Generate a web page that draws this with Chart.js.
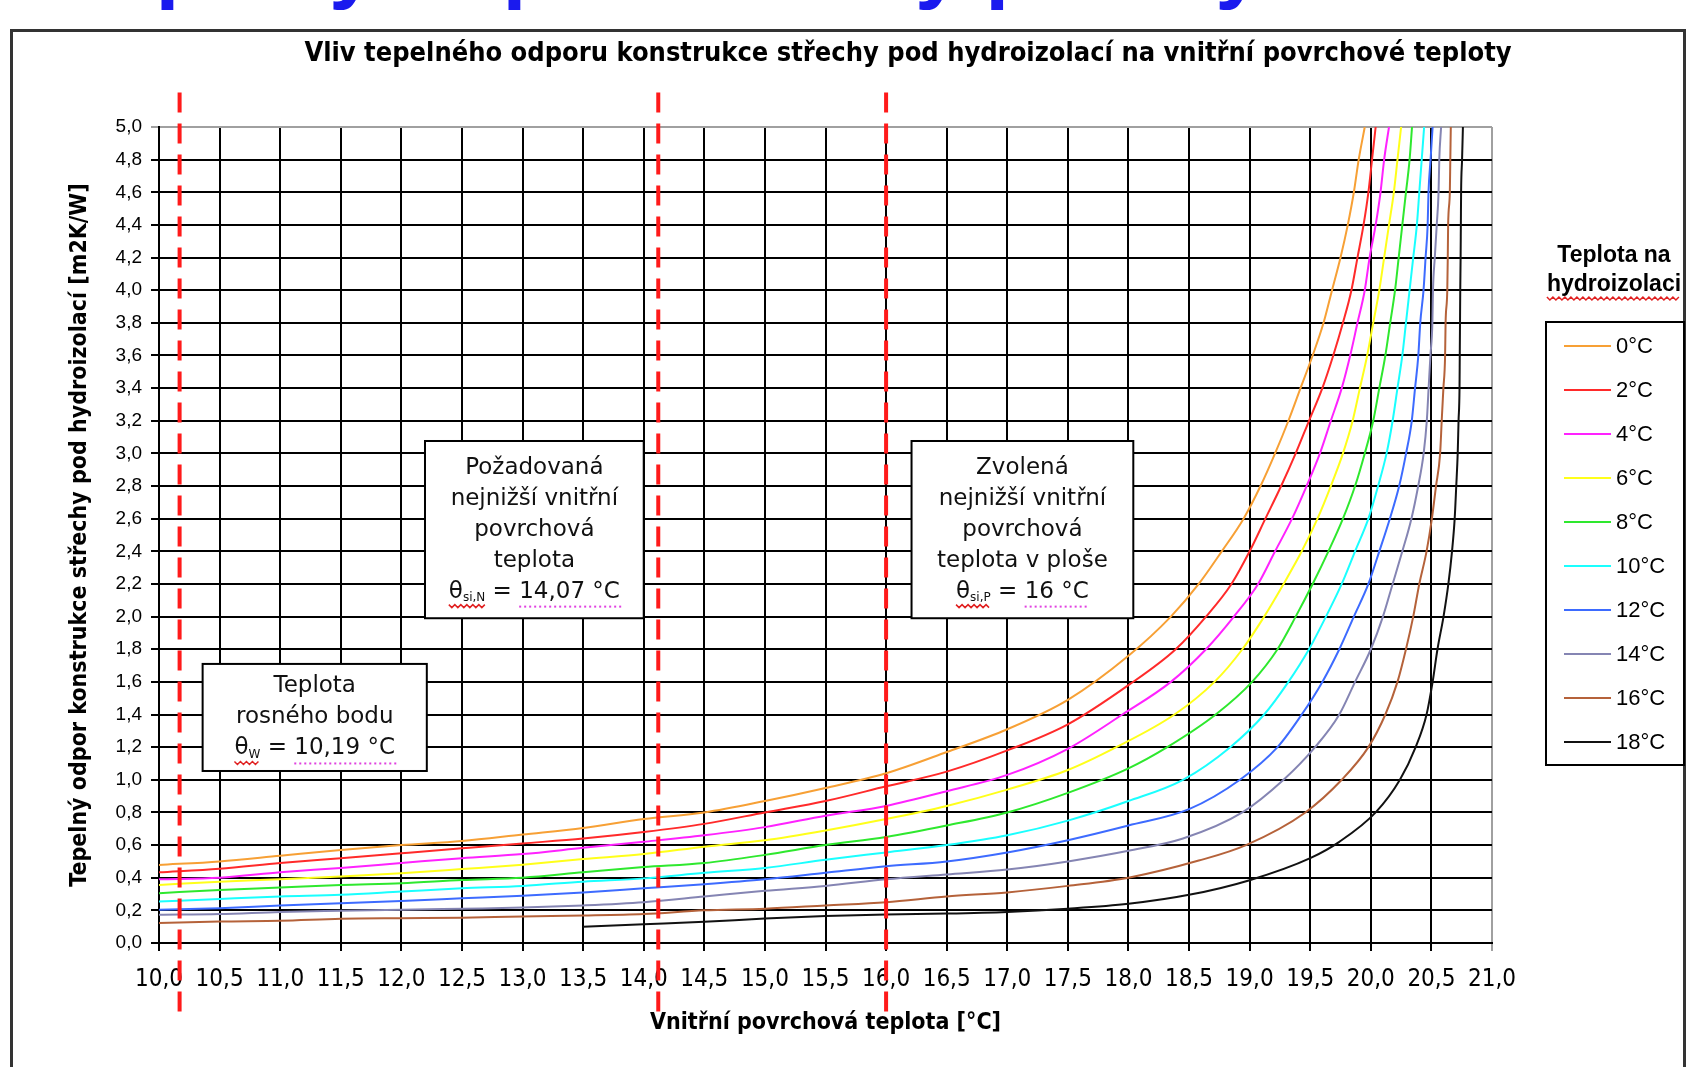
<!DOCTYPE html>
<html>
<head>
<meta charset="utf-8">
<title>Vliv tepelného odporu konstrukce střechy</title>
<script src="https://cdn.jsdelivr.net/npm/chart.js@4.4.1/dist/chart.umd.min.js"></script>
<style>
  html, body { margin: 0; padding: 0; background: #fff; overflow: hidden; }
  #wrap { position: relative; width: 1695px; height: 1067px; overflow: hidden; }
  #head { position: absolute; left: 63px; top: -81px; font: bold 86px/86px 'Liberation Sans', Arial, sans-serif;
          color: #1a1aee; white-space: nowrap; letter-spacing: -0.8px; }
  canvas { position: absolute; left: 0; top: 0; }
</style>
</head>
<body>
<div id="wrap">
  <canvas id="chart" width="1695" height="1067"></canvas>
  <div id="head">Tepelný odpor střechy pod hydroizolací</div>
</div>
<script>
// legend labels (temperature on the waterproofing layer)
const tempLabels = ['0°C', '2°C', '4°C', '6°C', '8°C', '10°C', '12°C', '14°C', '16°C', '18°C'];

// [inner surface temperature, thermal resistance]
const s0 = [[10.0,0.478],[10.5,0.50],[11.0,0.535],[11.5,0.57],[12.0,0.60],[12.5,0.625],[13.0,0.665],[13.5,0.705],[14.0,0.76],[14.5,0.80],[15.0,0.87],[15.5,0.95],[16.0,1.04],[16.5,1.17],[17.0,1.31],[17.5,1.49],[18.0,1.76],[18.35,2.0],[18.58,2.2],[18.77,2.4],[18.95,2.6],[19.09,2.8],[19.21,3.0],[19.32,3.2],[19.42,3.4],[19.52,3.6],[19.61,3.8],[19.68,4.0],[19.75,4.2],[19.81,4.4],[19.86,4.6],[19.9,4.8],[19.95,5.0]];
const s2 = [[10.0,0.433],[10.5,0.455],[11.0,0.49],[11.5,0.52],[12.0,0.55],[12.5,0.58],[13.0,0.61],[13.5,0.64],[14.0,0.68],[14.5,0.73],[15.0,0.80],[15.5,0.87],[16.0,0.96],[16.5,1.05],[17.0,1.18],[17.5,1.34],[18.0,1.58],[18.39,1.8],[18.64,2.0],[18.85,2.2],[19.0,2.4],[19.13,2.6],[19.26,2.8],[19.38,3.0],[19.49,3.2],[19.6,3.4],[19.69,3.6],[19.77,3.8],[19.84,4.0],[19.89,4.2],[19.94,4.4],[19.98,4.6],[20.01,4.8],[20.04,5.0]];
const s4 = [[10.0,0.39],[10.5,0.40],[11.0,0.433],[11.5,0.46],[12.0,0.49],[12.5,0.52],[13.0,0.545],[13.5,0.583],[14.0,0.62],[14.5,0.66],[15.0,0.71],[15.5,0.78],[16.0,0.84],[16.5,0.93],[17.0,1.03],[17.5,1.19],[17.95,1.4],[18.35,1.6],[18.64,1.8],[18.87,2.0],[19.07,2.2],[19.21,2.4],[19.35,2.6],[19.47,2.8],[19.58,3.0],[19.67,3.2],[19.76,3.4],[19.83,3.6],[19.89,3.8],[19.95,4.0],[19.99,4.2],[20.04,4.4],[20.08,4.6],[20.11,4.8],[20.15,5.0]];
const s6 = [[10.0,0.356],[10.5,0.376],[11.0,0.39],[11.5,0.407],[12.0,0.427],[12.5,0.453],[13.0,0.48],[13.5,0.514],[14.0,0.545],[14.5,0.59],[15.0,0.63],[15.5,0.69],[16.0,0.76],[16.5,0.84],[17.0,0.94],[17.5,1.06],[17.9,1.2],[18.38,1.4],[18.71,1.6],[18.94,1.8],[19.12,2.0],[19.28,2.2],[19.43,2.4],[19.56,2.6],[19.67,2.8],[19.77,3.0],[19.85,3.2],[19.91,3.4],[19.97,3.6],[20.02,3.8],[20.07,4.0],[20.11,4.2],[20.15,4.4],[20.19,4.6],[20.22,4.8],[20.25,5.0]];
const s8 = [[10.0,0.305],[10.5,0.325],[11.0,0.34],[11.5,0.356],[12.0,0.366],[12.5,0.386],[13.0,0.40],[13.5,0.433],[14.0,0.465],[14.5,0.49],[15.0,0.54],[15.5,0.60],[16.0,0.65],[16.5,0.72],[17.0,0.80],[17.5,0.92],[18.0,1.07],[18.32,1.2],[18.72,1.4],[19.02,1.6],[19.23,1.8],[19.38,2.0],[19.52,2.2],[19.65,2.4],[19.77,2.6],[19.87,2.8],[19.95,3.0],[20.02,3.2],[20.07,3.4],[20.12,3.6],[20.16,3.8],[20.2,4.0],[20.23,4.2],[20.26,4.4],[20.29,4.6],[20.32,4.8],[20.34,5.0]];
const s10 = [[10.0,0.254],[10.5,0.27],[11.0,0.285],[11.5,0.295],[12.0,0.315],[12.5,0.335],[13.0,0.35],[13.5,0.376],[14.0,0.396],[14.5,0.43],[15.0,0.46],[15.5,0.51],[16.0,0.555],[16.5,0.60],[17.0,0.66],[17.5,0.75],[18.0,0.87],[18.45,1.0],[18.84,1.2],[19.12,1.4],[19.32,1.6],[19.49,1.8],[19.63,2.0],[19.76,2.2],[19.87,2.4],[19.98,2.6],[20.06,2.8],[20.13,3.0],[20.18,3.2],[20.22,3.4],[20.26,3.6],[20.29,3.8],[20.32,4.0],[20.35,4.2],[20.38,4.4],[20.4,4.6],[20.42,4.8],[20.44,5.0]];
const s12 = [[10.0,0.203],[10.5,0.213],[11.0,0.23],[11.5,0.244],[12.0,0.258],[12.5,0.274],[13.0,0.29],[13.5,0.31],[14.0,0.335],[14.5,0.36],[15.0,0.39],[15.5,0.43],[16.0,0.47],[16.5,0.50],[17.0,0.555],[17.5,0.63],[18.0,0.72],[18.5,0.82],[18.92,1.0],[19.23,1.2],[19.43,1.4],[19.6,1.6],[19.74,1.8],[19.86,2.0],[19.98,2.2],[20.07,2.4],[20.157,2.6],[20.234,2.8],[20.291,3.0],[20.338,3.2],[20.365,3.4],[20.392,3.6],[20.408,3.8],[20.435,4.0],[20.452,4.2],[20.469,4.4],[20.476,4.6],[20.493,4.8],[20.51,5.0]];
const s14 = [[10.0,0.173],[10.5,0.177],[11.0,0.19],[11.5,0.197],[12.0,0.203],[12.5,0.21],[13.0,0.217],[13.5,0.23],[14.0,0.25],[14.5,0.285],[15.0,0.32],[15.5,0.35],[16.0,0.39],[16.5,0.42],[17.0,0.45],[17.5,0.50],[18.0,0.565],[18.45,0.64],[18.94,0.8],[19.28,1.0],[19.54,1.2],[19.74,1.4],[19.87,1.6],[20.0,1.8],[20.1,2.0],[20.18,2.2],[20.26,2.4],[20.335,2.6],[20.391,2.8],[20.436,3.0],[20.462,3.2],[20.477,3.4],[20.492,3.6],[20.508,3.8],[20.513,4.0],[20.528,4.2],[20.544,4.4],[20.559,4.6],[20.565,4.8],[20.58,5.0]];
const s16 = [[10.0,0.122],[10.5,0.132],[11.0,0.136],[11.5,0.148],[12.0,0.152],[12.5,0.155],[13.0,0.163],[13.5,0.168],[14.0,0.177],[14.5,0.20],[15.0,0.21],[15.5,0.23],[16.0,0.25],[16.5,0.285],[17.0,0.31],[17.5,0.35],[18.0,0.40],[18.58,0.505],[18.97,0.6],[19.46,0.8],[19.76,1.0],[19.98,1.2],[20.12,1.4],[20.22,1.6],[20.29,1.8],[20.35,2.0],[20.4,2.2],[20.46,2.4],[20.504,2.6],[20.538,2.8],[20.572,3.0],[20.585,3.2],[20.599,3.4],[20.613,3.6],[20.617,3.8],[20.631,4.0],[20.635,4.2],[20.638,4.4],[20.652,4.6],[20.656,4.8],[20.66,5.0]];
const s18 = [[13.5,0.10],[14.0,0.115],[14.5,0.13],[15.0,0.15],[15.5,0.165],[16.0,0.175],[16.5,0.18],[17.0,0.19],[17.5,0.21],[18.0,0.24],[18.5,0.295],[19.0,0.385],[19.5,0.52],[19.74,0.62],[20.04,0.8],[20.24,1.0],[20.37,1.2],[20.46,1.4],[20.51,1.6],[20.55,1.8],[20.6,2.0],[20.64,2.2],[20.67,2.4],[20.692,2.6],[20.705,2.8],[20.717,3.0],[20.724,3.2],[20.732,3.4],[20.734,3.6],[20.736,3.8],[20.738,4.0],[20.741,4.2],[20.743,4.4],[20.745,4.6],[20.753,4.8],[20.76,5.0]];
const series = [s0, s2, s4, s6, s8, s10, s12, s14, s16, s18];

// red dashed markers (x where drawn) and their vertical span
const markerX = [10.17, 14.12, 16.0];
const markerSpan = [-0.42, 5.25];

const curveColors = ['#f7a035', '#ff2a2a', '#ff22ff', '#ffff1a', '#2ee82e', '#1affff', '#3d6bff', '#8585b3', '#b5623a', '#111111'];

const NARROW = "'Liberation Sans Narrow', 'DejaVu Sans Condensed', 'Arial Narrow', 'Liberation Sans', sans-serif";
const BOXFONT = "'DejaVu Sans', Verdana, sans-serif";

const fmt = v => v.toFixed(1).replace('.', ',');

// annotation boxes in data units
const boxes = [
  { x0: 10.36, x1: 12.21, y0: 1.054, y1: 1.71, lines: ['Teplota', 'rosného bodu'], sub: 'W', value: '10,19 °C' },
  { x0: 12.195, x1: 14.0, y0: 1.99, y1: 3.076, lines: ['Požadovaná', 'nejnižší vnitřní', 'povrchová', 'teplota'], sub: 'si,N', value: '14,07 °C' },
  { x0: 16.21, x1: 18.04, y0: 1.99, y1: 3.076, lines: ['Zvolená', 'nejnižší vnitřní', 'povrchová', 'teplota v ploše'], sub: 'si,P', value: '16 °C' }
];

function wavy(ctx, x0, x1, y, color) {
  ctx.save();
  ctx.strokeStyle = color; ctx.lineWidth = 1.5;
  ctx.beginPath();
  for (let x = x0, k = 0; x <= x1; x += 3, k++) {
    const yy = y + (k % 2 ? 2 : -1);
    if (k === 0) ctx.moveTo(x, yy); else ctx.lineTo(x, yy);
  }
  ctx.stroke();
  ctx.restore();
}

function dotted(ctx, x0, x1, y, color) {
  ctx.save();
  ctx.fillStyle = color;
  for (let x = x0; x <= x1; x += 5) ctx.fillRect(x, y, 2, 2);
  ctx.restore();
}

function thetaLine(ctx, cx, y, sub, value) {
  const main = '23px ' + BOXFONT, small = '12px ' + BOXFONT;
  ctx.font = main;
  const wT = ctx.measureText('θ').width;
  const wEq = ctx.measureText(' = ').width;
  const wV = ctx.measureText(value).width;
  ctx.font = small;
  const wS = ctx.measureText(sub).width;
  let x = cx - (wT + wS + wEq + wV) / 2;
  ctx.textAlign = 'left';
  ctx.font = main;
  ctx.fillText('θ', x, y);
  ctx.font = small;
  ctx.fillText(sub, x + wT, y + 6);
  wavy(ctx, x, x + wT + wS, y + 14, '#e02020');
  ctx.font = main;
  ctx.fillText(' = ', x + wT + wS, y);
  const xv = x + wT + wS + wEq;
  ctx.fillText(value, xv, y);
  dotted(ctx, xv, xv + wV, y + 14, '#e040e0');
}

const decor = {
  id: 'decor',
  beforeDraw(chart) {
    const ctx = chart.ctx;
    ctx.save();
    ctx.fillStyle = '#fff';
    ctx.fillRect(0, 0, chart.width, chart.height);
    ctx.strokeStyle = '#333';
    ctx.lineWidth = 3;
    ctx.strokeRect(11.5, 30.5, 1673, 1100);
    ctx.restore();
  },
  beforeDatasetsDraw(chart) {
    const ctx = chart.ctx, sx = chart.scales.x, sy = chart.scales.y;
    ctx.save();
    boxes.forEach(b => {
      const l = sx.getPixelForValue(b.x0), r = sx.getPixelForValue(b.x1);
      const t = sy.getPixelForValue(b.y1), btm = sy.getPixelForValue(b.y0);
      ctx.fillStyle = '#fff';
      ctx.fillRect(l, t, r - l, btm - t);
      ctx.strokeStyle = '#000'; ctx.lineWidth = 2;
      ctx.strokeRect(l, t, r - l, btm - t);
      const cx = (l + r) / 2;
      const n = b.lines.length + 1, lh = 31;
      let y = (t + btm) / 2 - (n - 1) * lh / 2;
      ctx.fillStyle = '#111';
      ctx.textBaseline = 'middle';
      ctx.textAlign = 'center';
      ctx.font = '23px ' + BOXFONT;
      b.lines.forEach(s => { ctx.fillText(s, cx, y); y += lh; });
      thetaLine(ctx, cx, y, b.sub, b.value);
    });
    ctx.restore();
  },
  afterDraw(chart) {
    const ctx = chart.ctx;
    ctx.save();
    // chart title
    ctx.fillStyle = '#000';
    ctx.textAlign = 'center';
    ctx.textBaseline = 'middle';
    ctx.font = 'bold 27px ' + NARROW;
    ctx.fillText('Vliv tepelného odporu konstrukce střechy pod hydroizolací na vnitřní povrchové teploty', 908, 54);
    // legend title
    ctx.font = "bold 23px 'Liberation Sans', Arial, sans-serif";
    ctx.fillText('Teplota na', 1614, 256);
    ctx.fillText('hydroizolaci', 1614, 285);
    const wh = ctx.measureText('hydroizolaci').width;
    wavy(ctx, 1614 - wh / 2, 1614 + wh / 2, 298, '#e02020');
    // legend box
    ctx.strokeStyle = '#000';
    ctx.lineWidth = 2;
    ctx.strokeRect(1546, 322, 138, 443);
    ctx.textAlign = 'left';
    ctx.font = "22px 'Liberation Sans', Arial, sans-serif";
    chart.data.datasets.slice(0, tempLabels.length).forEach((d, i) => {
      const y = 346 + i * 44;
      ctx.strokeStyle = d.borderColor;
      ctx.lineWidth = 2;
      ctx.beginPath(); ctx.moveTo(1564, y); ctx.lineTo(1611, y); ctx.stroke();
      ctx.fillStyle = '#000';
      ctx.fillText(d.label, 1616, y + 1);
    });
    ctx.restore();
  }
};

const datasets = series.map((pts, i) => ({
  label: tempLabels[i],
  data: pts.map(([x, y]) => ({ x, y })),
  borderColor: curveColors[i],
  borderWidth: 2,
  pointRadius: 0,
  cubicInterpolationMode: 'monotone',
  fill: false
}));

markerX.forEach(x => datasets.push({
  label: '',
  data: [{ x, y: markerSpan[0] }, { x, y: markerSpan[1] }],
  borderColor: '#ff1a1a',
  borderWidth: 4,
  borderDash: [20, 11],
  pointRadius: 0,
  clip: false,
  order: -1
}));

new Chart(document.getElementById('chart'), {
  type: 'line',
  data: { datasets },
  options: {
    responsive: false,
    animation: false,
    devicePixelRatio: 1,
    layout: { padding: { left: 62, right: 203, top: 127, bottom: 30 } },
    plugins: { legend: { display: false }, title: { display: false }, tooltip: { enabled: false } },
    scales: {
      x: {
        type: 'linear', min: 10, max: 21,
        ticks: { stepSize: 0.5, autoSkip: false, maxRotation: 0, callback: fmt, color: '#000', padding: 14,
                 font: { family: NARROW, size: 24 } },
        grid: { color: c => (c.tick && c.tick.value === 21 ? '#a0a0a0' : '#000'), lineWidth: 2, tickLength: 8 },
        border: { color: '#000', width: 2 },
        title: { display: true, text: 'Vnitřní povrchová teplota [°C]', color: '#000', padding: { top: 4, bottom: 0 },
                 font: { family: NARROW, size: 23, weight: 'bold' } },
        afterFit: s => { s.height = 94; }
      },
      y: {
        type: 'linear', min: 0, max: 5,
        ticks: { stepSize: 0.2, autoSkip: false, callback: fmt, color: '#000', padding: 9,
                 font: { family: "'Liberation Sans', Arial, sans-serif", size: 19 } },
        grid: { color: c => (c.tick && Math.abs(c.tick.value - 5) < 1e-6 ? '#a0a0a0' : '#000'), lineWidth: 2, tickLength: 8 },
        border: { color: '#000', width: 2 },
        title: { display: true, text: 'Tepelný odpor konstrukce střechy pod hydroizolací [m2K/W]', color: '#000',
                 padding: { top: 4, bottom: 4 }, font: { family: NARROW, size: 23, weight: 'bold' } },
        afterFit: s => { s.width = 97; }
      }
    }
  },
  plugins: [decor]
});
</script>
</body>
</html>
